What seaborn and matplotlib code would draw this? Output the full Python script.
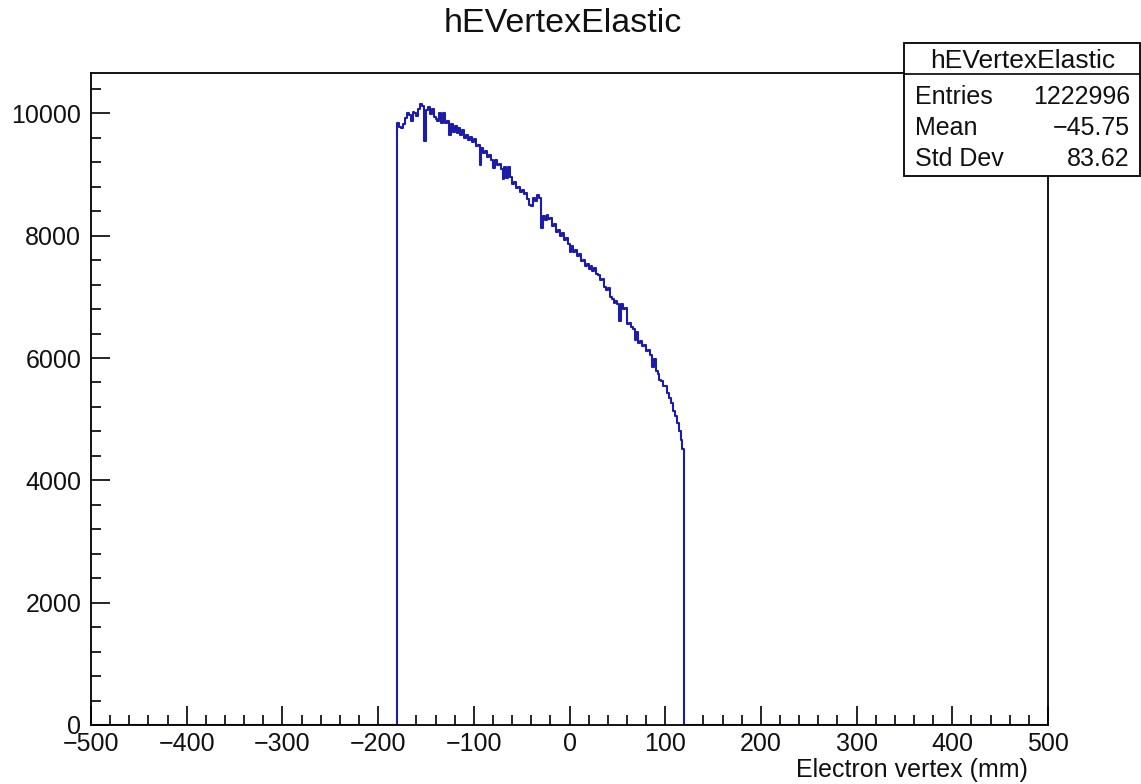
import numpy as np
import pandas as pd
import matplotlib
matplotlib.use("Agg")
import matplotlib.pyplot as plt
import seaborn as sns
from matplotlib.ticker import MultipleLocator
from matplotlib.patches import Rectangle
from matplotlib.lines import Line2D

# ---------------- data ----------------
title = "hEVertexElastic"
x_label = "Electron vertex (mm)"
x_ticks = [-500, -400, -300, -200, -100, 0, 100, 200, 300, 400, 500]
y_ticks = [0, 2000, 4000, 6000, 8000, 10000]
x_range = [-500, 500]
bin_width = 2
first_edge = -180
counts = [
    9850, 9780, 9760, 9830, 9930, 10010, 9980, 9870, 10020, 10000,
    9960, 10070, 10150, 10120, 9550, 10060, 10100, 9990, 10070, 9940,
    9900, 9880, 10000, 9850, 10010, 9840, 9880, 9650, 9820, 9700,
    9800, 9680, 9760, 9640, 9720, 9600, 9650, 9560, 9620, 9540,
    9580, 9470, 9490, 9150, 9440, 9350, 9380, 9290, 9320, 9230,
    9110, 9230, 9150, 9170, 9090, 8930, 9130, 8950, 9120, 8960,
    8850, 8880, 8780, 8800, 8720, 8750, 8680, 8690, 8600, 8500,
    8480, 8620, 8560, 8660, 8620, 8130, 8330, 8250, 8340, 8280,
    8290, 8160, 8190, 8060, 8100, 8000, 8050, 7930, 7970, 7860,
    7740, 7830, 7740, 7760, 7660, 7700, 7580, 7610, 7500, 7530,
    7460, 7500, 7430, 7470, 7380, 7350, 7280, 7300, 7160, 7120,
    7150, 7000, 6960, 6900, 6930, 6880, 6600, 6880, 6800, 6820,
    6560, 6580, 6500, 6470, 6300, 6420, 6250, 6280, 6200, 6210,
    6120, 6130, 6050, 5850, 5980, 5780, 5740, 5640, 5620, 5540,
    5550, 5430, 5350, 5260, 5140, 5050, 4940, 4800, 4660, 4510,
]
stats_title = "hEVertexElastic"
stats_labels = ["Entries", "Mean", "Std Dev"]
stats_values = ["1222996", "\u221245.75", "83.62"]

# ---------------- style ----------------
sns.set_style("ticks")
plt.rcParams["font.family"] = ["Liberation Sans", "DejaVu Sans"]
plt.rcParams["axes.unicode_minus"] = True

W, H = 1141, 784
fig = plt.figure(figsize=(W / 100, H / 100), dpi=100)
ax = fig.add_axes([91 / W, 1 - 725 / H, (1048 - 91) / W, (725 - 73) / H])

n_bins = int((x_range[1] - x_range[0]) / bin_width)
centers = x_range[0] + bin_width * (np.arange(n_bins) + 0.5)
weights = np.zeros(n_bins)
start = int((first_edge - x_range[0]) / bin_width)
weights[start:start + len(counts)] = counts
df = pd.DataFrame({"x": centers, "w": weights})

sns.histplot(data=df, x="x", weights="w", bins=n_bins, binrange=tuple(x_range),
             element="step", fill=False, color="#1c1caa", linewidth=1.5, ax=ax, zorder=2)

ax.set_xlim(*x_range)
ax.set_ylim(0, 10660)
ax.set_xticks(x_ticks)
ax.set_yticks(y_ticks)
ax.xaxis.set_minor_locator(MultipleLocator(20))
ax.yaxis.set_minor_locator(MultipleLocator(400))
ax.tick_params(which="both", direction="in", top=False, right=False, color="black", width=1.2)
ax.tick_params(which="major", length=14, labelsize=18, labelcolor="#111111")
ax.tick_params(which="minor", length=7)
ax.tick_params(axis="x", which="major", pad=5)
ax.tick_params(axis="y", which="major", pad=7)
ax.set_xlabel("")
ax.set_ylabel("")
for s in ax.spines.values():
    s.set_visible(True)
    s.set_color("black")
    s.set_linewidth(1.3)
    s.set_zorder(3)

# title and axis title
fig.text(563 / W, 1 - 23 / H, title, ha="center", va="center", fontsize=24.5, color="#111111")
fig.text(1028 / W, 1 - 770 / H, x_label, ha="right", va="center", fontsize=18, color="#111111")

# stats box
bx0, bx1, by0, by1 = 904, 1140, 43, 176
fig.add_artist(Rectangle((bx0 / W, 1 - by1 / H), (bx1 - bx0) / W, (by1 - by0) / H,
                         transform=fig.transFigure, facecolor="white", edgecolor="black",
                         linewidth=1.3, zorder=10))
fig.add_artist(Line2D([bx0 / W, bx1 / W], [1 - 74 / H, 1 - 74 / H], transform=fig.transFigure,
                      color="black", linewidth=1.2, zorder=11))
fig.text(1023 / W, 1 - 61 / H, stats_title, ha="center", va="center", fontsize=19, zorder=12,
         color="#111111")
row_y = [97, 128, 159]
for lab, val, yy in zip(stats_labels, stats_values, row_y):
    fig.text(915 / W, 1 - yy / H, lab, ha="left", va="center", fontsize=18, zorder=12, color="#111111")
    fig.text(1130 / W, 1 - yy / H, val, ha="right", va="center", fontsize=18, zorder=12, color="#111111")

fig.savefig("out.png", dpi=100, facecolor="white")
